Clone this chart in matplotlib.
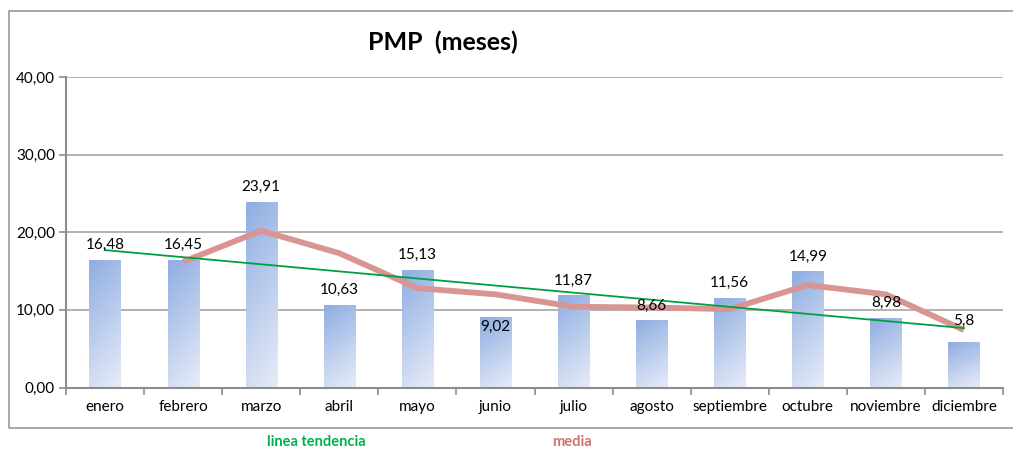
import matplotlib
matplotlib.use("Agg")
import matplotlib.pyplot as plt
import numpy as np
from matplotlib.lines import Line2D

plt.rcParams['font.family'] = ['Lato', 'DejaVu Sans']

months = ["enero", "febrero", "marzo", "abril", "mayo", "junio", "julio",
          "agosto", "septiembre", "octubre", "noviembre", "diciembre"]
pmp = [16.48, 16.45, 23.91, 10.63, 15.13, 9.02, 11.87, 8.66, 11.56, 14.99, 8.98, 5.8]
value_labels = ["16,48", "16,45", "23,91", "10,63", "15,13", "9,02", "11,87",
                "8,66", "11,56", "14,99", "8,98", "5,8"]
media = [None, 16.2, 20.2, 17.3, 12.8, 12.0, 10.4, 10.3, 10.1, 13.2, 12.0, 7.4]
trend_ends = [17.7, 7.65]
yticks = [0, 10, 20, 30, 40]
ytick_labels = ["0,00", "10,00", "20,00", "30,00", "40,00"]

W, H = 1013, 450
fig = plt.figure(figsize=(W / 100, H / 100), dpi=100)
ax = fig.add_axes([66 / W, 1 - 387.5 / H, (1003 - 66) / W, (387.5 - 77) / H])

x = np.arange(len(months))
bw = 0.40
bars = ax.bar(x, pmp, width=bw, color='none', zorder=2)

n = 128
gy, gx = np.mgrid[0:1:complex(0, n), 0:1:complex(0, n)]
t = np.clip(0.85 * gy + 0.25 * (1 - gx) - 0.05, 0, 1)
top_c = np.array([0x93, 0xB0, 0xE2]) / 255
bot_c = np.array([0xE4, 0xEA, 0xF7]) / 255
img = bot_c[None, None, :] * (1 - t[:, :, None]) + top_c[None, None, :] * t[:, :, None]
for b in bars:
    x0, w, h = b.get_x(), b.get_width(), b.get_height()
    im = ax.imshow(img, extent=[x0, x0 + w, 0, h], origin='lower', aspect='auto', zorder=2)
    im.set_clip_path(b)

ax.set_xlim(-0.5, len(months) - 0.5)
ax.set_ylim(0, 40)

mx = [i for i, v in enumerate(media) if v is not None]
my = [v for v in media if v is not None]
ax.plot(mx, my, color='#D99594', lw=4.2, zorder=3, solid_capstyle='butt', solid_joinstyle='round')

ax.plot([0, len(months) - 1], trend_ends, color='#00A040', lw=1.3, zorder=4)

offsets = {5: -1.2, 11: 2.8}
for i, (v, lab) in enumerate(zip(pmp, value_labels)):
    dy = offsets.get(i, 1.9)
    ax.text(i, v + dy, lab, ha='center', va='center', fontsize=11, color='#000000', zorder=5)

ax.set_yticks(yticks)
ax.set_yticklabels(ytick_labels, fontsize=11)
ax.yaxis.grid(True, color='#A6A6A6', lw=1.2, zorder=0)
ax.set_axisbelow(True)
ax.set_xticks(x)
ax.set_xticklabels(months, fontsize=11)
ax.set_xticks(np.arange(-0.5, len(months), 1), minor=True)
ax.tick_params(axis='x', which='major', length=0, pad=9)
ax.tick_params(axis='x', which='minor', length=5, color='#8C8C8C', width=1.2)
ax.tick_params(axis='y', length=5, color='#8C8C8C', width=1.2, pad=3)
for s in ['top', 'right']:
    ax.spines[s].set_visible(False)
for s in ['left', 'bottom']:
    ax.spines[s].set_color('#8C8C8C')
    ax.spines[s].set_linewidth(1.5)

fig.text(443 / W, 1 - 42 / H, "PMP  (meses)", ha='center', va='center',
         fontsize=18, fontweight='bold', color='#000000')

fig.text(316 / W, 1 - 442 / H, "linea tendencia", ha='center', va='center',
         fontsize=10.5, fontweight='bold', color='#00B050')
fig.text(572 / W, 1 - 442 / H, "media", ha='center', va='center',
         fontsize=10.5, fontweight='bold', color='#D07070')

# outer frame as one open polyline (left, top, bottom; right side cut off)
fx0, fx1, fy0, fy1 = 9 / W, 1.03, 1 - 428 / H, 1 - 11 / H
fig.add_artist(Line2D([fx1, fx0, fx0, fx1], [fy1, fy1, fy0, fy0], transform=fig.transFigure,
                      color='#A0A0A0', lw=1.3, solid_capstyle='butt', clip_on=False))

fig.savefig("out.png", dpi=100, facecolor='white')
